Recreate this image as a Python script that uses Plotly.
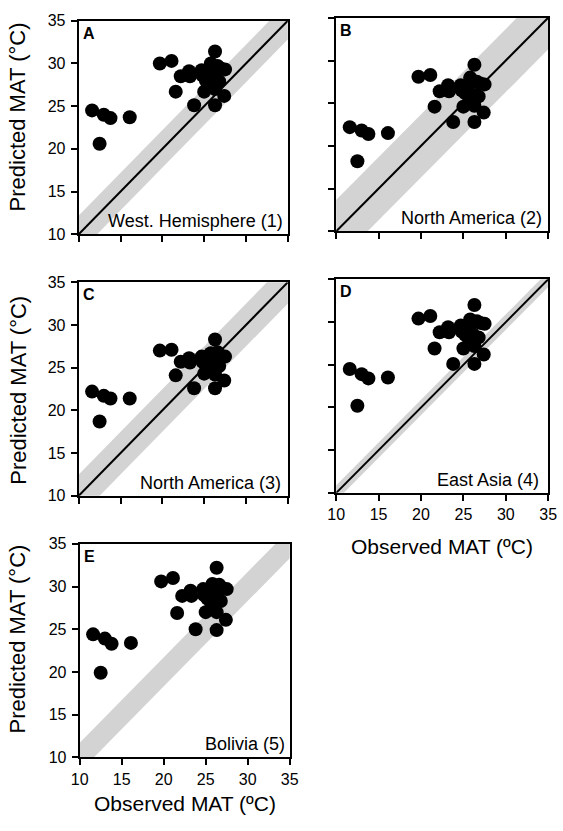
import plotly.graph_objects as go

# Observed MAT (°C) for each site (shared by all panels)
observed = [11.6, 12.5, 13.0, 13.8, 16.1, 19.7, 21.1, 21.6, 22.2, 23.2,
            23.3, 23.8, 24.7, 24.8, 25.0, 25.2, 25.5, 25.7, 26.0, 26.1,
            26.3, 26.3, 26.3, 26.6, 26.8, 27.0, 27.4, 27.5, 25.8]

# Predicted MAT (°C) per calibration
pred_A = [24.5, 20.6, 24.0, 23.6, 23.7, 30.0, 30.3, 26.7, 28.5, 29.1,
          28.5, 25.1, 29.2, 28.6, 26.7, 28.0, 28.8, 27.3, 29.6, 28.2,
          31.4, 25.1, 27.0, 29.7, 27.9, 29.4, 26.2, 29.3, 30.0]
pred_B = [22.2, 18.2, 21.8, 21.4, 21.5, 28.1, 28.3, 24.6, 26.4, 27.1,
          26.4, 22.8, 27.1, 26.5, 24.6, 26.2, 27.0, 25.3, 27.7, 26.0,
          29.5, 22.8, 24.7, 27.5, 25.8, 27.3, 23.9, 27.2, 28.0]
pred_C = [22.2, 18.7, 21.7, 21.4, 21.4, 27.0, 27.1, 24.1, 25.7, 26.1,
          25.6, 22.6, 26.3, 25.7, 24.3, 25.3, 26.4, 24.9, 26.6, 25.8,
          28.3, 22.6, 24.2, 26.8, 25.2, 26.4, 23.5, 26.3, 26.7]
pred_D = [24.5, 20.2, 23.9, 23.4, 23.5, 30.4, 30.7, 26.9, 28.8, 29.4,
          28.8, 25.1, 29.6, 28.9, 26.9, 28.5, 29.4, 27.6, 30.0, 28.6,
          32.0, 25.1, 27.2, 30.1, 28.2, 29.9, 26.2, 29.8, 30.3]
pred_E = [24.4, 19.9, 23.9, 23.3, 23.4, 30.6, 31.0, 26.9, 28.9, 29.5,
          28.9, 25.0, 29.7, 29.0, 27.0, 28.6, 29.4, 27.7, 30.1, 28.7,
          32.2, 24.9, 27.0, 30.2, 28.3, 29.8, 26.1, 29.7, 30.3]

panel_letters = ["A", "B", "C", "D", "E"]
panel_names = ["West. Hemisphere (1)", "North America (2)", "North America (3)",
               "East Asia (4)", "Bolivia (5)"]
predictions = [pred_A, pred_B, pred_C, pred_D, pred_E]
band_halfwidth = [2.2, 3.7, 2.5, 0.9, 1.7]   # uncertainty band (°C)
show_one_to_one = [True, True, True, True, False]
tick_values = [10, 15, 20, 25, 30, 35]
axis_range = [10, 35]

W, H = 563, 831
# panel boxes in pixels: (left, right, top, bottom)
boxes = [(72, 288, 13, 231), (338, 557, 10, 228), (72, 288, 280, 498),
         (338, 557, 277, 495), (73, 290, 547, 765)]
show_ylabels = [True, False, True, False, True]
show_xlabels = [False, False, False, True, True]
ytitle_center = {0: 111, 2: 390, 4: 644}
xtitle_center = {3: 550, 4: 812}
name_xshift = [-3, -4, -5, -7, -3]

FONT = "Liberation Sans, Arial, Helvetica, sans-serif"
fig = go.Figure()
layout = dict(width=W, height=H, margin=dict(l=0, r=0, t=0, b=0),
              paper_bgcolor="white", plot_bgcolor="white", showlegend=False,
              font=dict(family=FONT, color="black"))
annotations = []

for i in range(5):
    xa = "x" if i == 0 else f"x{i+1}"
    ya = "y" if i == 0 else f"y{i+1}"
    L, R, T, B = boxes[i]
    w = band_halfwidth[i]
    lo, hi = axis_range[0] - 2, axis_range[1] + 2
    fig.add_trace(go.Scatter(
        x=[lo, hi, hi, lo, lo], y=[lo + w, hi + w, hi - w, lo - w, lo + w],
        fill="toself", fillcolor="#d3d3d3", line=dict(width=0), mode="lines",
        hoverinfo="skip", xaxis=xa, yaxis=ya))
    if show_one_to_one[i]:
        fig.add_trace(go.Scatter(x=axis_range, y=axis_range, mode="lines",
                                 line=dict(color="black", width=2),
                                 xaxis=xa, yaxis=ya))
    fig.add_trace(go.Scatter(x=observed, y=predictions[i], mode="markers",
                             marker=dict(color="black", size=14, line=dict(width=0)),
                             xaxis=xa, yaxis=ya))
    axcommon = dict(range=axis_range, tickvals=tick_values, ticks="outside",
                    ticklen=6, tickwidth=2, tickcolor="black", showline=True,
                    linecolor="black", linewidth=2, mirror=True, showgrid=False,
                    zeroline=False, tickfont=dict(size=16, family=FONT, color="black"),
                    fixedrange=True)
    layout["xaxis" if i == 0 else f"xaxis{i+1}"] = dict(
        axcommon, domain=[L / W, R / W], anchor=ya, showticklabels=show_xlabels[i])
    layout["yaxis" if i == 0 else f"yaxis{i+1}"] = dict(
        axcommon, domain=[1 - B / H, 1 - T / H], anchor=xa,
        showticklabels=show_ylabels[i], ticklabelstandoff=2)
    annotations.append(dict(text="<b>" + panel_letters[i] + "</b>", xref=f"{xa} domain",
                            yref=f"{ya} domain", x=0.0, y=1.0, xshift=2, yshift=-2,
                            xanchor="left", yanchor="top", showarrow=False,
                            font=dict(size=16)))
    annotations.append(dict(text=panel_names[i], xref=f"{xa} domain", yref=f"{ya} domain",
                            x=1.0, y=0.0, xshift=name_xshift[i], yshift=1,
                            xanchor="right", yanchor="bottom",
                            showarrow=False, font=dict(size=18)))
    if show_ylabels[i]:
        annotations.append(dict(text="Predicted MAT (°C)", xref="paper", yref="paper",
                                x=9 / W, y=1 - ytitle_center[i] / H, textangle=-90,
                                xanchor="center", yanchor="middle", showarrow=False,
                                font=dict(size=22)))
    if show_xlabels[i]:
        annotations.append(dict(text="Observed MAT (ºC)", xref="paper", yref="paper",
                                x=(L + R) / 2 / W, y=1 - xtitle_center[i] / H,
                                xanchor="center", yanchor="middle", showarrow=False,
                                font=dict(size=21)))

layout["annotations"] = annotations
fig.update_layout(**layout)
fig.write_html("out.html")
